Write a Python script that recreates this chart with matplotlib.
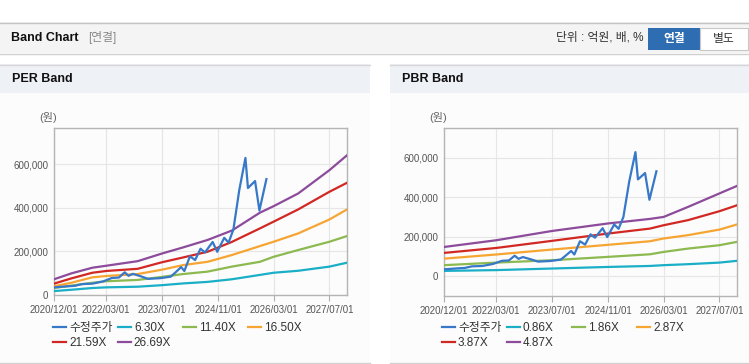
import pandas as pd
import matplotlib
matplotlib.use('Agg')
from matplotlib import pyplot as plt
from matplotlib.patches import Rectangle
from matplotlib.ticker import FuncFormatter
import matplotlib.dates as mdates

plt.rcParams['font.family'] = ['Liberation Sans', 'Noto Sans CJK KR', 'DejaVu Sans']

W, H = 749, 364

# adjusted price (same series in both charts), values in won
price_dates = ['2020-12-01', '2021-04-01', '2021-06-01', '2021-08-01', '2021-11-01',
               '2022-02-01', '2022-04-20', '2022-06-20', '2022-08-10', '2022-09-12',
               '2022-10-20', '2023-01-01', '2023-03-01', '2023-06-15', '2023-09-15',
               '2023-11-01', '2023-12-15', '2024-01-12', '2024-03-01', '2024-04-15',
               '2024-06-01', '2024-07-10', '2024-09-15', '2024-10-25', '2024-12-25',
               '2025-02-01', '2025-03-15', '2025-05-05', '2025-06-28', '2025-07-20',
               '2025-09-20', '2025-10-28', '2025-12-28']
price = [35000, 40000, 42000, 50000, 52000,
         62000, 78000, 80000, 104000, 88000,
         97000, 85000, 74000, 77000, 84000,
         106000, 128000, 110000, 177000, 160000,
         212000, 195000, 243000, 198000, 262000,
         240000, 300000, 480000, 628000, 490000,
         522000, 387000, 531000]

# PER band
per_dates = ['2020-12-01', '2021-05-01', '2021-11-01', '2022-03-01', '2022-12-01',
             '2023-07-01', '2024-01-01', '2024-08-01', '2025-03-01', '2025-11-01',
             '2026-03-01', '2026-10-01', '2027-07-01', '2027-12-01']
per_labels = ['6.30X', '11.40X', '16.50X', '21.59X', '26.69X']
per_630 = [18000, 24000, 32000, 35000, 38000, 45000, 53000, 60000, 72000, 92000, 102000, 111000, 130000, 148000]
per_1140 = [32000, 43000, 56000, 63000, 69000, 83000, 96000, 107000, 130000, 152000, 175000, 206000, 244000, 270000]
per_1650 = [40000, 56000, 81000, 87000, 96000, 116000, 137000, 152000, 183000, 224000, 244000, 282000, 346000, 392000]
per_2159 = [52000, 76000, 102000, 110000, 120000, 150000, 172000, 198000, 243000, 305000, 336000, 392000, 473000, 514000]
per_2669 = [72000, 99000, 125000, 134000, 155000, 190000, 218000, 252000, 295000, 377000, 407000, 465000, 572000, 640000]

# PBR band
pbr_dates = ['2020-12-01', '2022-03-01', '2023-07-01', '2024-11-01', '2025-11-01',
             '2026-03-01', '2026-10-01', '2027-07-01', '2027-12-01']
pbr_labels = ['0.86X', '1.86X', '2.87X', '3.87X', '4.87X']
pbr_086 = [27000, 31000, 39000, 47000, 52000, 56000, 61000, 69000, 78000]
pbr_186 = [56000, 69000, 81000, 98000, 111000, 123000, 140000, 157000, 174000]
pbr_287 = [89000, 110000, 135000, 159000, 177000, 191000, 208000, 236000, 262000]
pbr_387 = [118000, 143000, 179000, 216000, 241000, 258000, 284000, 329000, 359000]
pbr_487 = [148000, 182000, 229000, 267000, 290000, 300000, 351000, 419000, 457000]

xticks = ['2020-12-01', '2022-03-01', '2023-07-01', '2024-11-01', '2026-03-01', '2027-07-01']
yticks = [0, 200000, 400000, 600000]

price_color = '#3778c8'
band_colors = ['#1aafc7', '#8cb950', '#f7a532', '#d22823', '#8c4b9b']


def fx(x):
    return x / W


def fy(y):
    return 1 - y / H


def rect(fig, x0, y0, x1, y1, fc, ec='none', lw=0):
    fig.patches.append(Rectangle((fx(x0), fy(y1)), fx(x1 - x0), (y1 - y0) / H,
                                 transform=fig.transFigure, fc=fc, ec=ec, lw=lw, zorder=-2))


def hline(fig, x0, x1, y, color):
    fig.add_artist(plt.Line2D([fx(x0), fx(x1)], [fy(y), fy(y)], transform=fig.transFigure,
                              color=color, lw=1, zorder=-1))


fig = plt.figure(figsize=(W / 100, H / 100), dpi=100)
fig.patch.set_facecolor('white')

# top header bar
rect(fig, 0, 22, W, 53, '#f4f4f4')
hline(fig, 0, W, 22.5, '#c4c4c4')
hline(fig, 0, W, 53.5, '#d0d0d0')
fig.text(fx(11), fy(38), 'Band Chart', fontsize=9, fontweight='bold', color='#111111', va='center')
fig.text(fx(88), fy(38), '[연결]', fontsize=8.5, color='#888888', va='center')
fig.text(fx(643), fy(38), '단위 : 억원, 배, %', fontsize=8.5, color='#333333', va='center', ha='right')
rect(fig, 648, 28, 700, 50, '#2f6db2')
rect(fig, 700, 28, 748, 50, 'white', ec='#c8c8c8', lw=0.8)
fig.text(fx(674), fy(39), '연결', fontsize=8.5, fontweight='bold', color='white', va='center', ha='center')
fig.text(fx(724), fy(39), '별도', fontsize=8.5, color='#333333', va='center', ha='center')

panels = [
    (0, 370, 'PER Band', per_dates, [per_630, per_1140, per_1650, per_2159, per_2669], per_labels,
     (54, 128, 347, 295), (0, 765000), 53),
    (390, 749, 'PBR Band', pbr_dates, [pbr_086, pbr_186, pbr_287, pbr_387, pbr_487], pbr_labels,
     (444, 128, 737, 296), (-100000, 750000), 442),
]

for x0, x1, title, bdates, bands, labels, box, ylim, legx in panels:
    rect(fig, x0, 64, x1, 93, '#eef1f6')
    rect(fig, x0, 93, x1, 362, '#fcfcfc')
    hline(fig, x0, x1, 64.5, '#d6d6d6')
    hline(fig, x0, x1, 362.5, '#d0d0d0')
    fig.text(fx(x0 + 12), fy(79), title, fontsize=9, fontweight='bold', color='#111111', va='center')
    fig.text(fx(box[0] - 6), fy(118), '(원)', fontsize=8, color='#666666', va='center', ha='center')

    ax = fig.add_axes([fx(box[0]), fy(box[3]), fx(box[2] - box[0]), (box[3] - box[1]) / H])
    ax.set_zorder(2)
    ax.set_facecolor('#fcfcfc')
    bd = pd.to_datetime(bdates)
    ph, = ax.plot(pd.to_datetime(price_dates), price, color=price_color, lw=1.6, label='수정주가', zorder=4)
    hs = []
    for vals, c, lab in zip(bands, band_colors, labels):
        h, = ax.plot(bd, vals, color=c, lw=1.6, label=lab, zorder=3)
        hs.append(h)

    ax.set_xlim(pd.Timestamp('2020-12-01'), pd.Timestamp('2027-12-01'))
    ax.set_ylim(*ylim)
    ax.set_xticks(pd.to_datetime(xticks))
    ax.xaxis.set_major_formatter(mdates.DateFormatter('%Y/%m/%d'))
    ax.set_yticks(yticks)
    ax.yaxis.set_major_formatter(FuncFormatter(lambda v, p: f'{v:,.0f}'))
    ax.tick_params(axis='x', length=4, color='#b0b0b0', labelsize=7, labelcolor='#555555', pad=3)
    ax.tick_params(axis='y', length=0, labelsize=7, labelcolor='#555555', pad=4)
    ax.grid(True, color='#e6e6e6', lw=0.8)
    ax.set_axisbelow(True)
    for s in ax.spines.values():
        s.set_color('#b4b4b4')
        s.set_linewidth(1)

    # legend: fixed-width items, 4 per row
    for i, h in enumerate([ph] + hs):
        col, row = i % 4, i // 4
        leg = fig.legend([h], [h.get_label()], loc='center left',
                         bbox_to_anchor=(fx(legx + col * 65), fy(328 + row * 15)),
                         frameon=False, fontsize=8.5, handlelength=1.1, handletextpad=0.25,
                         borderpad=0, borderaxespad=0, labelcolor='#333333')
        leg.set_zorder(3)

fig.savefig('out.png', dpi=100)
